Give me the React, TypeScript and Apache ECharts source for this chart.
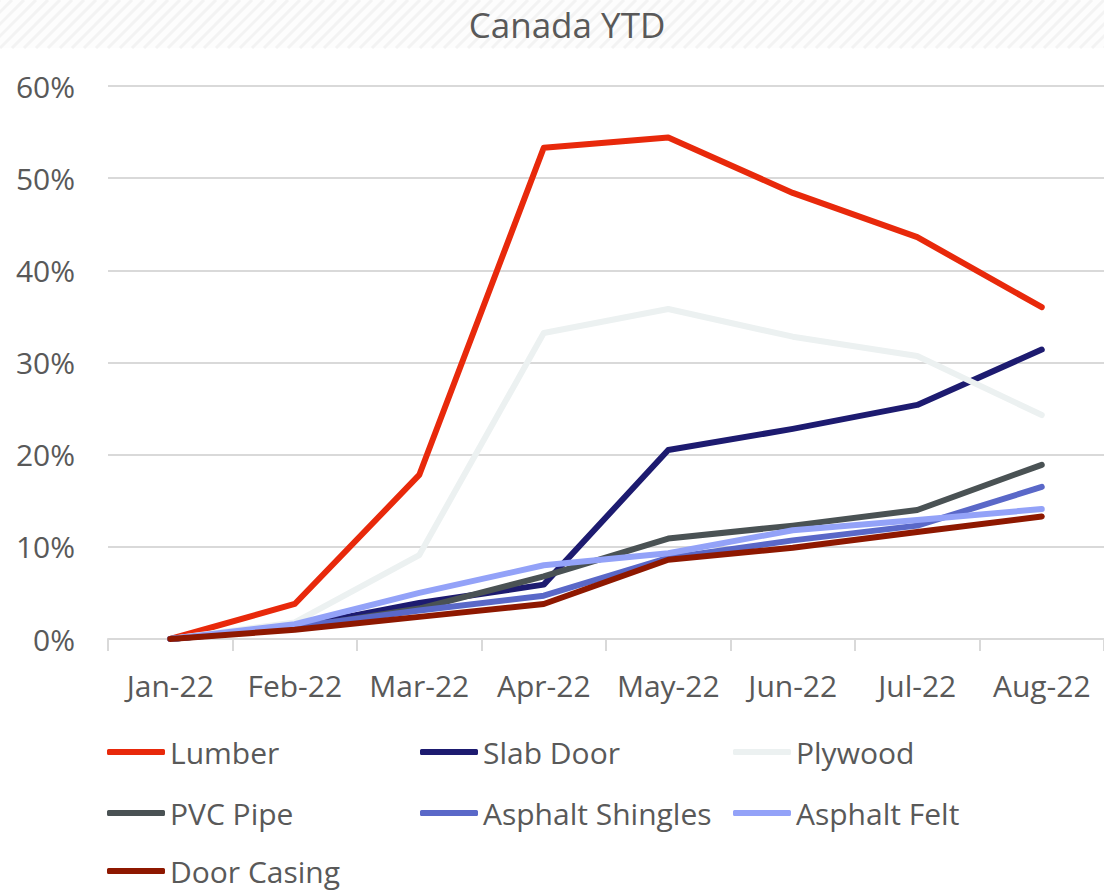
import React, { useEffect, useRef } from "react";
import * as echarts from "echarts";

const categories = ["Jan-22", "Feb-22", "Mar-22", "Apr-22", "May-22", "Jun-22", "Jul-22", "Aug-22"];
const yTicks = [0, 10, 20, 30, 40, 50, 60];

const lumber = [0, 3.8, 17.8, 53.3, 54.4, 48.4, 43.6, 36.0];
const slabDoor = [0, 1.3, 3.9, 5.9, 20.5, 22.8, 25.4, 31.4];
const plywood = [0, 1.8, 9.1, 33.2, 35.8, 32.8, 30.7, 24.3];
const pvcPipe = [0, 1.2, 3.3, 6.8, 10.9, 12.3, 14.0, 18.9];
const asphaltShingles = [0, 1.3, 3.1, 4.7, 8.8, 10.7, 12.3, 16.5];
const asphaltFelt = [0, 1.6, 5.0, 8.0, 9.3, 11.8, 12.9, 14.1];
const doorCasing = [0, 1.0, 2.4, 3.8, 8.6, 9.9, 11.6, 13.3];

const seriesDefs = [
  { name: "Lumber", data: lumber, color: "#E8290B" },
  { name: "Slab Door", data: slabDoor, color: "#1D1B70" },
  { name: "Plywood", data: plywood, color: "#ECF1F1" },
  { name: "PVC Pipe", data: pvcPipe, color: "#4A5254" },
  { name: "Asphalt Shingles", data: asphaltShingles, color: "#5A68C8" },
  { name: "Asphalt Felt", data: asphaltFelt, color: "#93A2F8" },
  { name: "Door Casing", data: doorCasing, color: "#8E1800" },
];

const legendPos: Record<string, [number, number]> = {
  "Lumber": [107, 752],
  "Slab Door": [420, 752],
  "Plywood": [733, 752],
  "PVC Pipe": [107, 813],
  "Asphalt Shingles": [420, 813],
  "Asphalt Felt": [733, 813],
  "Door Casing": [107, 871],
};

const FONT = "'Open Sans', sans-serif";
const TXT = "#595959";

export default function App() {
  const ref = useRef<HTMLDivElement>(null);
  useEffect(() => {
    if (!ref.current) return;
    const chart = echarts.init(ref.current, null, { renderer: "svg" });

    const hatch: any[] = [];
    hatch.push({ type: "rect", shape: { x: 0, y: 0, width: 1104, height: 48 }, style: { fill: "#fdfdfd" }, z: 0 });
    for (let i = -60; i < 1110; i += 12) {
      hatch.push({
        type: "line",
        shape: { x1: i, y1: 48, x2: i + 48, y2: 0 },
        style: { stroke: "#f3f3f3", lineWidth: 3 },
        z: 0,
      });
    }

    const option: any = {
      animation: false,
      backgroundColor: "#ffffff",
      graphic: [
        { type: "group", silent: true, children: hatch, z: 0 },
        {
          type: "text",
          x: 567,
          y: 24,
          z: 10,
          style: {
            text: "Canada YTD",
            fontFamily: FONT,
            fontSize: 35,
            lineHeight: 40,
            fill: TXT,
            textAlign: "center",
            textVerticalAlign: "middle",
          },
        },
      ],
      legend: seriesDefs.map((s) => ({
        show: true,
        data: [s.name],
        left: legendPos[s.name][0],
        top: legendPos[s.name][1] - 15,
        padding: 0,
        itemWidth: 58,
        itemHeight: 6,
        itemGap: 0,
        icon: "roundRect",
        selectedMode: false,
        textStyle: { fontFamily: FONT, fontSize: 30, color: TXT, lineHeight: 30, padding: [0, 0, 0, 0] },
      })),
      grid: { left: 108, top: 86, width: 1000, height: 553, containLabel: false },
      xAxis: {
        type: "category",
        data: categories,
        boundaryGap: true,
        axisLine: { lineStyle: { color: "#D9D9D9", width: 2 } },
        axisTick: { show: true, length: 12, lineStyle: { color: "#D9D9D9", width: 2 } },
        axisLabel: { fontFamily: FONT, fontSize: 30, color: TXT, margin: 31, interval: 0 },
        splitLine: { show: false },
      },
      yAxis: {
        type: "value",
        min: yTicks[0],
        max: yTicks[yTicks.length - 1],
        interval: 10,
        axisLine: { show: false },
        axisTick: { show: false },
        axisLabel: { fontFamily: FONT, fontSize: 30, color: TXT, margin: 33, formatter: "{value}%" },
        splitLine: { lineStyle: { color: "#D9D9D9", width: 2 } },
      },
      series: seriesDefs.map((s) => ({
        name: s.name,
        type: "line",
        data: s.data,
        symbol: "none",
        showSymbol: false,
        color: s.color,
        lineStyle: { color: s.color, width: 6, cap: "round", join: "round" },
        itemStyle: { color: s.color },
      })),
    };
    chart.setOption(option);
    return () => chart.dispose();
  }, []);

  return (
    <div
      ref={ref}
      style={{ position: "absolute", left: 0, top: 0, width: 1104, height: 891, overflow: "hidden" }}
    />
  );
}
